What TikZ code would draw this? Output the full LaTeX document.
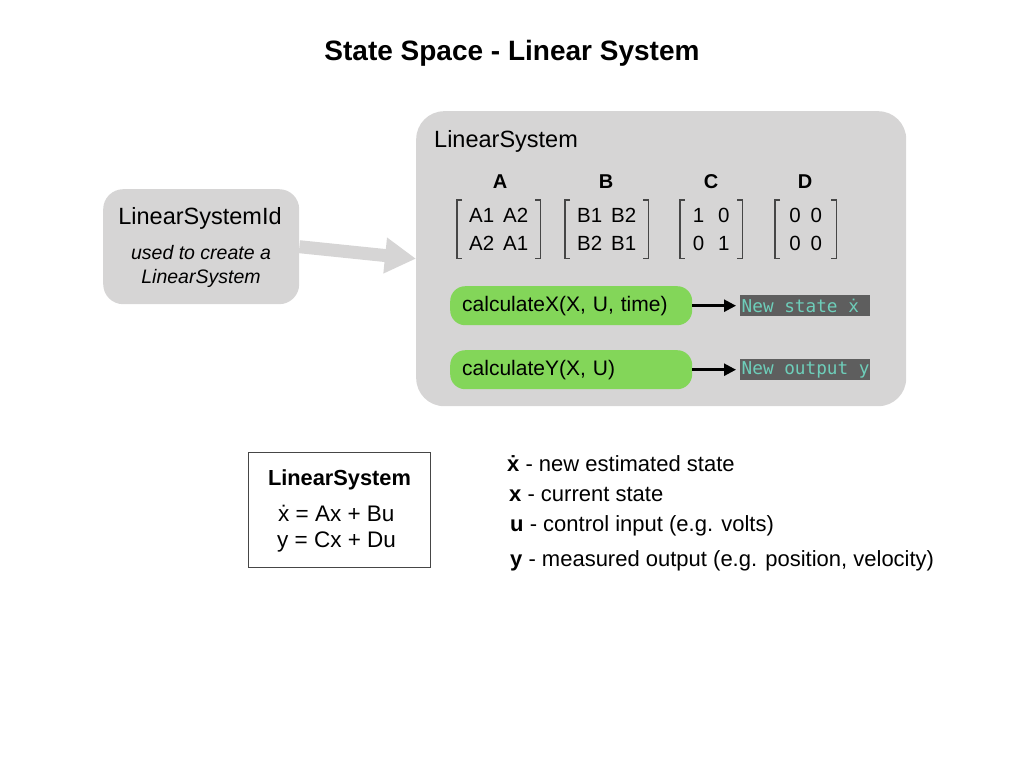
\documentclass[tikz,border=0pt]{standalone}
\usepackage{fontspec}
\setmainfont{Liberation Sans}
\setmonofont{DejaVu Sans Mono}
\usetikzlibrary{arrows.meta}
\definecolor{boxgray}{RGB}{214,213,213}
\definecolor{pillgreen}{RGB}{131,214,89}
\definecolor{darkbox}{RGB}{94,94,94}
\definecolor{tealtxt}{RGB}{110,206,186}
\definecolor{brkgray}{RGB}{70,70,70}
\newcommand\monosp{\hspace{0.602em}}
\begin{document}
\begin{tikzpicture}[x=1pt,y=-1pt,
  txt/.style={inner sep=0pt, anchor=base west},
  ctxt/.style={inner sep=0pt, anchor=base},
  f22/.style={font=\fontsize{22}{26}\selectfont},
  pill/.style={fill=pillgreen, rounded corners=15pt, minimum width=242pt, minimum height=39pt,
    inner xsep=12pt, inner ysep=0pt, text width=218pt, align=left, anchor=north west,
    font=\fontsize{21}{24}\selectfont},
  outbox/.style={fill=darkbox, text=tealtxt, font=\ttfamily\fontsize{17.7}{20}\selectfont,
    minimum height=21pt, minimum width=130pt, inner xsep=1.5pt, inner ysep=0pt, anchor=north west},
  mat/.style={inner sep=0pt, anchor=north west, minimum height=58pt, align=center,
    font=\fontsize{20.5}{28}\selectfont},
  brk/.style={draw=brkgray, line width=1.1pt},
  blk/.style={draw=black, line width=2.5pt, -{Triangle[length=12pt,width=12pt]}, shorten >=4pt}
]
\useasboundingbox (0,0) rectangle (1024,768);

% title
\node[ctxt, font=\bfseries\fontsize{28}{32}\selectfont] (title) at (512,60) {State Space - Linear System};

% big box
\node[fill=boxgray, rounded corners=28pt, minimum width=490pt, minimum height=295pt,
      inner sep=0pt, anchor=north west] (ls) at (416,111) {};
\node[txt, font=\fontsize{23.5}{28}\selectfont] (lstitle) at (434,147) {LinearSystem};

% headers
\node[ctxt, font=\bfseries\fontsize{20}{24}\selectfont] (hA) at (500,188) {A};
\node[ctxt, font=\bfseries\fontsize{20}{24}\selectfont] (hB) at (606,188) {B};
\node[ctxt, font=\bfseries\fontsize{20}{24}\selectfont] (hC) at (711,188) {C};
\node[ctxt, font=\bfseries\fontsize{20}{24}\selectfont] (hD) at (805,188) {D};

% matrices
\node[mat, minimum width=83pt] (mA) at (457,200) {A1\hspace{9pt}A2\\A2\hspace{9pt}A1};
\node[mat, minimum width=83pt] (mB) at (565,200) {B1\hspace{9pt}B2\\B2\hspace{9pt}B1};
\node[mat, minimum width=62pt] (mC) at (680,200) {1\hspace{14pt}0\\0\hspace{14pt}1};
\node[mat, minimum width=61pt] (mD) at (775,200) {0\hspace{10pt}0\\0\hspace{10pt}0};
\foreach \m in {mA,mB,mC,mD}{
  \draw[brk] ([xshift=5pt]\m.north west) -- (\m.north west) -- (\m.south west) -- ([xshift=5pt]\m.south west);
  \draw[brk] ([xshift=-5pt]\m.north east) -- (\m.north east) -- (\m.south east) -- ([xshift=-5pt]\m.south east);
}

% pills
\node[pill] (p1) at (450,286) {calculateX(X, U, time)};
\node[pill] (p2) at (450,350) {calculateY(X, U)};

% outputs
\node[outbox] (o1) at (740,295) {\makebox[127pt][l]{New\monosp state\monosp ẋ}};
\node[outbox] (o2) at (740,359) {\makebox[127pt][l]{New\monosp output\monosp y}};
\draw[blk] (p1.east) -- (o1.west);
\draw[blk] (p2.east) -- (o2.west);

% LinearSystemId
\node[fill=boxgray, rounded corners=20pt, minimum width=196pt, minimum height=115pt,
      inner sep=0pt, anchor=north west] (lsid) at (103,189) {};
\node[ctxt, font=\fontsize{23.5}{28}\selectfont] (lsidt) at (200,224) {LinearSystemId};
\node[ctxt, font=\itshape\fontsize{19.5}{24}\selectfont] (lsid1) at (201,259) {used to create a};
\node[ctxt, font=\itshape\fontsize{19.5}{24}\selectfont] (lsid2) at (201,283) {LinearSystem};

\draw[boxgray, line width=13pt, -{Triangle[length=31pt,width=34pt]}] (lsid.east) -- (ls.west);

% legend box
\node[draw=brkgray, line width=0.9pt, minimum width=182pt, minimum height=115pt,
      inner sep=0pt, anchor=north west] (leg) at (248,452) {};
\node[ctxt, font=\bfseries\fontsize{21.8}{26}\selectfont] (legt) at (339.5,485) {LinearSystem};
\node[txt, font=\fontsize{22.5}{26}\selectfont] (eq1) at (278,521) {ẋ = Ax + Bu};
\node[txt, font=\fontsize{22.5}{26}\selectfont] (eq2) at (277,547) {y = Cx + Du};

% legend text
\node[txt, f22] (l1) at (507,471) {\textbf{ẋ} - new estimated state};
\node[txt, f22] (l2) at (509,501) {\textbf{x} - current state};
\node[txt, f22] (l3) at (510,531) {\textbf{u} - control input (e.g. volts)};
\node[txt, f22] (l4) at (510,566) {\textbf{y} - measured output (e.g. position, velocity)};
\end{tikzpicture}
\end{document}
